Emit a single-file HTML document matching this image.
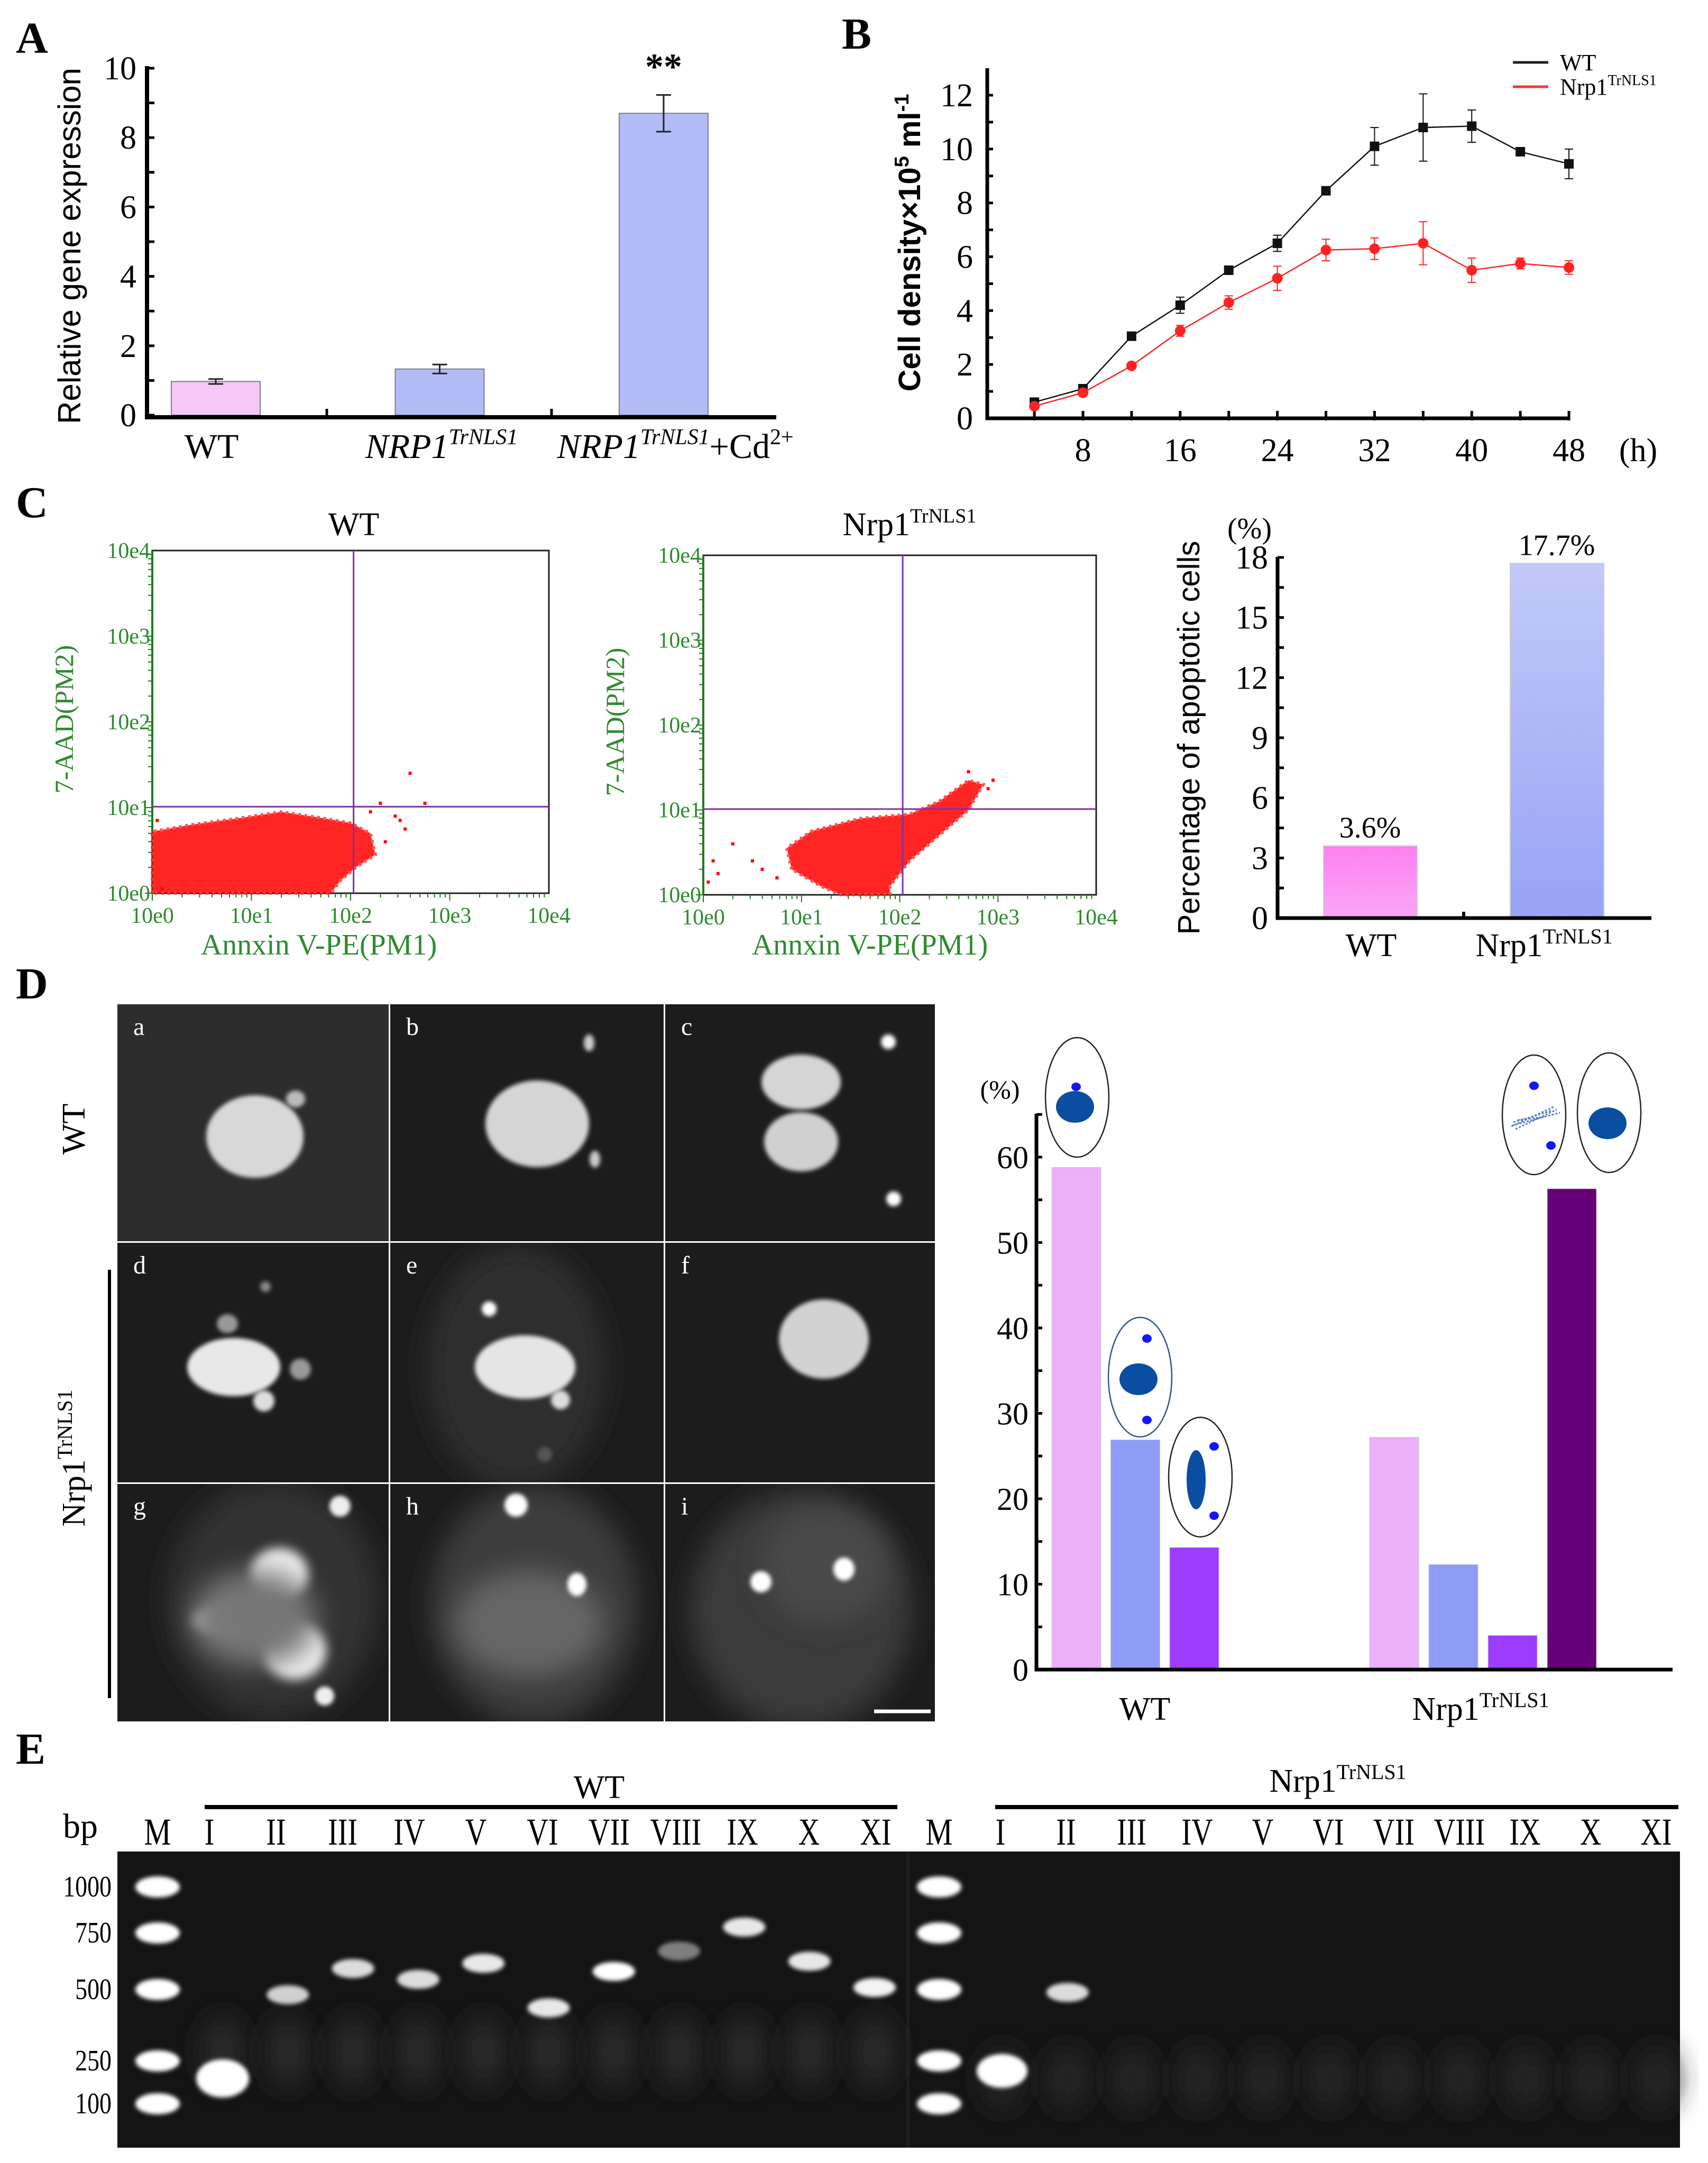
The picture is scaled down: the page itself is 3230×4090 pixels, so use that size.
<!DOCTYPE html>
<html><head><meta charset="utf-8"><title>Figure</title>
<style>
html,body{margin:0;padding:0;background:#fff}
svg{display:block}
.serif{font-family:"Liberation Serif",serif}
.sans{font-family:"Liberation Sans",sans-serif}
</style></head>
<body>
<svg id="fig" xmlns="http://www.w3.org/2000/svg" width="3230" height="4090" viewBox="0 0 3230 4090">
<defs>
<filter id="blur4" x="-50%" y="-50%" width="200%" height="200%"><feGaussianBlur stdDeviation="4"/></filter>
<filter id="blur10" x="-50%" y="-50%" width="200%" height="200%"><feGaussianBlur stdDeviation="10"/></filter>
<filter id="blur25" x="-50%" y="-50%" width="200%" height="200%"><feGaussianBlur stdDeviation="25"/></filter>
<filter id="blur40" x="-50%" y="-50%" width="200%" height="200%"><feGaussianBlur stdDeviation="40"/></filter>
<linearGradient id="gPink" x1="0" y1="0" x2="0" y2="1"><stop offset="0" stop-color="#ff80f2"/><stop offset="1" stop-color="#f9a6f5"/></linearGradient>
<linearGradient id="gBlue" x1="0" y1="0" x2="0" y2="1"><stop offset="0" stop-color="#c2c9f8"/><stop offset="1" stop-color="#97a3f5"/></linearGradient>
</defs>

<text class="serif" x="30" y="100" font-size="84" font-weight="bold">A</text>
<text class="serif" x="1592" y="92" font-size="84" font-weight="bold">B</text>
<text class="serif" x="30" y="978" font-size="84" font-weight="bold">C</text>
<text class="serif" x="30" y="1888" font-size="84" font-weight="bold">D</text>
<text class="serif" x="30" y="3335" font-size="84" font-weight="bold">E</text>

<g id="pA">
<text class="sans" transform="translate(152,465) rotate(-90)" text-anchor="middle" font-size="60">Relative gene expression</text>
<text class="serif" x="400" y="866" text-anchor="middle" font-size="66">WT</text>
<text class="serif" x="835" y="866" text-anchor="middle" font-size="66" font-style="italic">NRP1<tspan dy="-26" font-size="42">TrNLS1</tspan></text>
<text class="serif" x="1277" y="866" text-anchor="middle" font-size="66"><tspan font-style="italic">NRP1</tspan><tspan dy="-26" font-size="42" font-style="italic">TrNLS1</tspan><tspan dy="26">+Cd</tspan><tspan dy="-26" font-size="42">2+</tspan></text>
</g>

<g id="pB">
<text class="sans" transform="translate(1740,459) rotate(-90)" text-anchor="middle" font-size="58" font-weight="bold">Cell density×10<tspan dy="-22" font-size="38">5</tspan><tspan dy="22"> ml</tspan><tspan dy="-22" font-size="38">-1</tspan></text>
<text class="serif" x="3098" y="872" text-anchor="middle" font-size="62">(h)</text>
<line x1="2861" y1="118" x2="2928" y2="118" stroke="#222" stroke-width="5"/>
<text class="serif" x="2950" y="133" font-size="44">WT</text>
<line x1="2861" y1="164" x2="2928" y2="164" stroke="#f33" stroke-width="5"/>
<text class="serif" x="2950" y="179" font-size="44">Nrp1<tspan dy="-18" font-size="28">TrNLS1</tspan></text>
</g>

<g id="pC">
<text class="serif" x="669" y="1012" text-anchor="middle" font-size="62">WT</text>
<text class="serif" x="1720" y="1012" text-anchor="middle" font-size="62">Nrp1<tspan dy="-24" font-size="38">TrNLS1</tspan></text>
<text class="serif" transform="translate(138,1360) rotate(-90)" text-anchor="middle" font-size="50" fill="#2e8b2e">7-AAD(PM2)</text>
<text class="serif" transform="translate(1180,1365) rotate(-90)" text-anchor="middle" font-size="50" fill="#2e8b2e">7-AAD(PM2)</text>
<text class="serif" x="603" y="1805" text-anchor="middle" font-size="56" fill="#2e8b2e">Annxin V-PE(PM1)</text>
<text class="serif" x="1645" y="1805" text-anchor="middle" font-size="56" fill="#2e8b2e">Annxin V-PE(PM1)</text>
<text class="sans" transform="translate(2268,1395) rotate(-90)" text-anchor="middle" font-size="58">Percentage of apoptotic cells</text>
<text class="serif" x="2363" y="1018" text-anchor="middle" font-size="56">(%)</text>
<text class="serif" x="2593" y="1808" text-anchor="middle" font-size="62">WT</text>
<text class="serif" x="2920" y="1808" text-anchor="middle" font-size="62">Nrp1<tspan dy="-24" font-size="40">TrNLS1</tspan></text>
</g>

<g id="pD">
<text class="serif" transform="translate(160,2135) rotate(-90)" text-anchor="middle" font-size="62">WT</text>
<text class="serif" transform="translate(160,2757) rotate(-90)" text-anchor="middle" font-size="62">Nrp1<tspan dy="-24" font-size="40">TrNLS1</tspan></text>
<line x1="207" y1="2401" x2="207" y2="3211" stroke="#000" stroke-width="6"/>
<text class="serif" x="1891" y="2077" text-anchor="middle" font-size="50">(%)</text>
<text class="serif" x="2165" y="3252" text-anchor="middle" font-size="62">WT</text>
<text class="serif" x="2800" y="3252" text-anchor="middle" font-size="62">Nrp1<tspan dy="-24" font-size="40">TrNLS1</tspan></text>
</g>

<g id="pE">
<text class="serif" x="1133" y="3400" text-anchor="middle" font-size="62">WT</text>
<line x1="387" y1="3417" x2="1697" y2="3417" stroke="#000" stroke-width="8"/>
<text class="serif" x="2530" y="3388" text-anchor="middle" font-size="62">Nrp1<tspan dy="-24" font-size="40">TrNLS1</tspan></text>
<line x1="1882" y1="3417" x2="3174" y2="3417" stroke="#000" stroke-width="8"/>
<text class="serif" x="152" y="3475" text-anchor="middle" font-size="66">bp</text>
</g>
</svg>

<script>
// ---------- DATA ----------
const aCategories = ['WT', 'NRP1-TrNLS1', 'NRP1-TrNLS1+Cd'];
const aValues = [0.97, 1.33, 8.7];
const aErrors = [0.07, 0.13, 0.53];
const aTicks = [0, 2, 4, 6, 8, 10];
const bHours = [4, 8, 12, 16, 20, 24, 28, 32, 36, 40, 44, 48];
const bWT = [0.6, 1.1, 3.05, 4.2, 5.5, 6.5, 8.45, 10.1, 10.8, 10.85, 9.9, 9.45];
const bWTErr = [0.1, 0.1, 0.15, 0.3, 0.1, 0.3, 0.15, 0.7, 1.25, 0.6, 0.1, 0.55];
const bNrp = [0.45, 0.95, 1.95, 3.25, 4.3, 5.2, 6.25, 6.3, 6.5, 5.5, 5.75, 5.6];
const bNrpErr = [0.1, 0.1, 0.1, 0.2, 0.25, 0.45, 0.4, 0.4, 0.8, 0.45, 0.2, 0.25];
const bYTicks = [0, 2, 4, 6, 8, 10, 12];
const bXTicks = [8, 16, 24, 32, 40, 48];
const flowTickLabels = ['10e0', '10e1', '10e2', '10e3', '10e4'];
const flowGate = [2.03, 1.01];
const flowWTCloudX = [0, 0, 0.4, 0.9, 1.3, 1.7, 2.0, 2.2, 2.25, 2.05, 1.9, 1.8];
const flowWTCloudY = [0, 0.72, 0.8, 0.88, 0.95, 0.88, 0.82, 0.7, 0.45, 0.3, 0.15, 0];
const flowWTOutX = [2.6, 2.75, 2.5, 2.45, 2.3, 2.35, 2.2, 2.55, 0.05, 0.1];
const flowWTOutY = [1.4, 1.05, 0.85, 0.9, 1.05, 0.6, 0.95, 0.75, 0.85, 0.05];
const flowNrpCloudX = [0.9, 0.85, 1.1, 1.6, 2.1, 2.4, 2.7, 2.85, 2.7, 2.4, 2.1, 1.9, 1.9, 1.4, 1.2];
const flowNrpCloudY = [0.3, 0.55, 0.75, 0.9, 0.95, 1.1, 1.35, 1.3, 1.0, 0.7, 0.4, 0.1, 0, 0, 0.1];
const flowNrpOutX = [0.1, 0.3, 0.15, 0.5, 0.6, 2.7, 2.9, 2.95, 0.05, 0.75];
const flowNrpOutY = [0.4, 0.6, 0.25, 0.4, 0.3, 1.45, 1.25, 1.35, 0.15, 0.2];
const cCategories = ['WT', 'Nrp1-TrNLS1'];
const cValues = [3.6, 17.7];
const cLabels = ['3.6%', '17.7%'];
const cTicks = [0, 3, 6, 9, 12, 15, 18];
const dGroups = ['WT', 'Nrp1-TrNLS1'];
const dWTValues = [58.8, 26.9, 14.3];
const dNrpValues = [27.2, 12.3, 4.0, 56.3];
const dTicks = [0, 10, 20, 30, 40, 50, 60];
const markerSizes = [1000, 750, 500, 250, 100];
const laneNames = ['I', 'II', 'III', 'IV', 'V', 'VI', 'VII', 'VIII', 'IX', 'X', 'XI'];
const wtBands = [189, 482, 593, 545, 616, 436, 580, 670, 782, 625, 509];
const wtBandBright = [1.0, 0.8, 0.85, 0.85, 0.9, 0.9, 1.0, 0.45, 0.9, 0.9, 0.95];
const nrpBands = [215, 490, 0, 0, 0, 0, 0, 0, 0, 0, 0];
const nrpBandBright = [1.0, 0.85, 0, 0, 0, 0, 0, 0, 0, 0, 0];

// ---------- HELPERS ----------
const NS = 'http://www.w3.org/2000/svg';
const svg = document.getElementById('fig');
function mk(tag, attrs, parent) {
  const e = document.createElementNS(NS, tag);
  for (const k in attrs) e.setAttribute(k, attrs[k]);
  (parent || svg).appendChild(e);
  return e;
}
function tx(x, y, s, size, anchor, parent, extra) {
  const e = mk('text', Object.assign({x: x, y: y, 'font-size': size, 'text-anchor': anchor || 'middle', 'font-family': '"Liberation Serif", serif'}, extra || {}), parent);
  e.textContent = s;
  return e;
}
function ctx(x, y, s, size, anchor, parent, sx) {
  const e = mk('text', {x: x / sx, y: y, 'font-size': size, 'text-anchor': anchor, 'font-family': '"Liberation Serif", serif', transform: 'scale(' + sx + ',1)'}, parent);
  e.textContent = s;
  return e;
}
let el;

// ---------- PANEL A ----------
const gA = document.getElementById('pA');
const aY = v => 785 - v * (785 - 129) / 10;
const aBandX = i => 324 + i * 423.5;
const aColors = ['#f6c8f6', '#b3bcf6', '#b3bcf6'];
aValues.forEach((v, i) => {
  el = mk('rect', {x: aBandX(i), y: aY(v), width: 168, height: aY(0) - aY(v), fill: aColors[i], stroke: '#7a7a9a', 'stroke-width': 2}, gA);
  
  
  const cx = aBandX(i) + 84;
  el = mk('path', {d: `M${cx},${aY(v + aErrors[i])}V${aY(v - aErrors[i])}M${cx - 14},${aY(v + aErrors[i])}H${cx + 14}M${cx - 14},${aY(v - aErrors[i])}H${cx + 14}`, stroke: '#222', 'stroke-width': 3, fill: 'none'}, gA);
  
  
});
el = tx(aBandX(2) + 84, aY(aValues[2] + aErrors[2]) - 30, '**', 70, 'middle', gA, {'font-weight': 'bold'});


el = mk('path', {d: `M278,${aY(10) - 4}V${aY(0) + 4}H1468`, stroke: '#000', 'stroke-width': 8, fill: 'none'}, gA);


for (let v = 0; v <= 10; v++) {
  el = mk('line', {x1: 278, x2: 292, y1: aY(v), y2: aY(v), stroke: '#000', 'stroke-width': 5}, gA);
  
  
}
aTicks.forEach(v => {
  el = tx(258, aY(v) + 21, String(v), 62, 'end', gA);
  
  
});
[618, 1043].forEach(x => {
  el = mk('line', {x1: x, x2: x, y1: aY(0) - 12, y2: aY(0) + 4, stroke: '#000', 'stroke-width': 5}, gA);
  
  
});

// ---------- PANEL B ----------
const gB = document.getElementById('pB');
const bX = h => 2048 + (h - 8) * 183.8 / 8;
const bY = v => 791 - v * (791 - 180) / 12;
el = mk('path', {d: `M1867,129V${bY(0)}H2967`, stroke: '#000', 'stroke-width': 7, fill: 'none'}, gB);


for (let v = 0; v <= 12; v++) {
  el = mk('line', {x1: 1867, x2: 1878, y1: bY(v), y2: bY(v), stroke: '#000', 'stroke-width': 5}, gB);
  
  
}
bYTicks.forEach(v => {
  el = tx(1840, bY(v) + 21, String(v), 62, 'end', gB);
  
  
});
bHours.forEach(h => {
  el = mk('line', {x1: bX(h), x2: bX(h), y1: bY(0) - 14, y2: bY(0) + 4, stroke: '#000', 'stroke-width': 5}, gB);
  
  
});
bXTicks.forEach(h => {
  el = tx(bX(h), 872, String(h), 62, 'middle', gB);
  
  
});
function series(vals, errs, color, name, square) {
  el = mk('polyline', {points: vals.map((v, i) => bX(bHours[i]) + ',' + bY(v)).join(' '), fill: 'none', stroke: color, 'stroke-width': 2.5}, gB);
  
  
  vals.forEach((v, i) => {
    const x = bX(bHours[i]);
    el = mk('path', {d: `M${x},${bY(v + errs[i])}V${bY(v - errs[i])}M${x - 8},${bY(v + errs[i])}H${x + 8}M${x - 8},${bY(v - errs[i])}H${x + 8}`, stroke: color, 'stroke-width': 2, fill: 'none'}, gB);
    
    
    if (square) el = mk('rect', {x: x - 9, y: bY(v) - 9, width: 18, height: 18, fill: color}, gB);
    else el = mk('circle', {cx: x, cy: bY(v), r: 10, fill: color}, gB);
    
    
  });
}
series(bWT, bWTErr, '#111', 'wt-series', true);
series(bNrp, bNrpErr, '#f22', 'nrp1-series', false);

// ---------- PANEL C FLOW ----------
const gC = document.getElementById('pC');
function flowPlot(L, T, R, B, cx, cy, ox, oy, name) {
  const fx = v => L + v * (R - L) / 4, fy = v => B - v * (B - T) / 4;
  const g = mk('g', {}, gC);
  
  
  el = mk('rect', {x: L, y: T, width: R - L, height: B - T, fill: '#fff', stroke: '#222', 'stroke-width': 3}, g);
  
  
  el = mk('line', {x1: L, x2: L, y1: T, y2: B, stroke: '#1f7a1f', 'stroke-width': 4}, g);
  
  
  el = mk('polygon', {points: cx.map((v, i) => fx(v) + ',' + fy(cy[i])).join(' '), fill: '#f00', opacity: 0.85, stroke: '#f33', 'stroke-width': 6, 'stroke-dasharray': '5 7'}, g);
  
  
  ox.forEach((v, i) => {
    el = mk('rect', {x: fx(v) - 3, y: fy(oy[i]) - 3, width: 6, height: 6, fill: '#f00'}, g);
    
    
  });
  el = mk('line', {x1: fx(flowGate[0]), x2: fx(flowGate[0]), y1: T, y2: B, stroke: '#8030a0', 'stroke-width': 3}, g);
  
  
  el = mk('line', {x1: L, x2: R, y1: fy(flowGate[1]), y2: fy(flowGate[1]), stroke: '#8030a0', 'stroke-width': 3}, g);
  
  
  for (let d = 0; d < 4; d++) for (let k = 1; k <= 9; k++) {
    const lv = d + Math.log10(k);
    const len = k === 1 ? 14 : 8;
    el = mk('line', {x1: fx(lv), x2: fx(lv), y1: B, y2: B + len, stroke: '#1f7a1f', 'stroke-width': 2}, g);
    
    
    el = mk('line', {x1: L - len, x2: L, y1: fy(lv), y2: fy(lv), stroke: '#1f7a1f', 'stroke-width': 2}, g);
    
    
  }
  flowTickLabels.forEach((s, i) => {
    el = tx(fx(i), B + 56, s, 42, 'middle', g, {fill: '#2e8b2e'});
    
    
    el = tx(L - 4, fy(i) + 14, s, 42, 'end', g, {fill: '#2e8b2e'});
    
    
  });
}
flowPlot(288, 1041, 1038, 1689, flowWTCloudX, flowWTCloudY, flowWTOutX, flowWTOutY, 'flow-wt');
flowPlot(1330, 1050, 2073, 1692, flowNrpCloudX, flowNrpCloudY, flowNrpOutX, flowNrpOutY, 'flow-nrp1');

// ---------- PANEL C BARS ----------
const cY = v => 1736 - v * (1736 - 1054) / 18;
const cBarX = i => 2503 + i * 353;
const cFills = ['url(#gPink)', 'url(#gBlue)'];
cValues.forEach((v, i) => {
  el = mk('rect', {x: cBarX(i), y: cY(v), width: 177, height: cY(0) - cY(v), fill: cFills[i], stroke: '#ccc', 'stroke-width': 2}, gC);
  
  
  el = tx(cBarX(i) + 88, cY(v) - 16, cLabels[i], 56, 'middle', gC);
  
  
});
el = mk('path', {d: `M2416,1053V${cY(0)}H3123`, stroke: '#000', 'stroke-width': 7, fill: 'none'}, gC);


for (let v = 0; v <= 18; v += 1.5) {
  el = mk('line', {x1: 2416, x2: 2428, y1: cY(v), y2: cY(v), stroke: '#000', 'stroke-width': 5}, gC);
  
  
}
cTicks.forEach(v => {
  el = tx(2398, cY(v) + 21, String(v), 62, 'end', gC);
  
  
});
el = mk('line', {x1: 2768, x2: 2768, y1: cY(0) - 12, y2: cY(0), stroke: '#000', 'stroke-width': 6}, gC);



// ---------- PANEL D MICROGRAPHS ----------
const gD = document.getElementById('pD');
const colX = [222, 738, 1258], colW = [513, 517, 510];
const rowY = [1899, 2350, 2806], rowH = [448, 453, 449];
const panelLetters = ['a', 'b', 'c', 'd', 'e', 'f', 'g', 'h', 'i'];
const blobs = [
  [[482,2149,92,78,'#d8d8d8',4],[559,2078,18,16,'#bbb',4]],
  [[1016,2125,98,82,'#d5d5d5',4],[1114,1972,10,16,'#ccc',3],[1125,2192,10,16,'#ccc',3]],
  [[1515,2046,75,52,'#d5d5d5',4],[1515,2159,70,56,'#d0d0d0',4],[1680,1970,14,14,'#fff',3],[1690,2267,14,14,'#fff',3]],
  [[442,2585,88,55,'#e8e8e8',5],[430,2503,20,18,'#999',4],[502,2433,10,10,'#888',3],[568,2589,20,20,'#999',4],[499,2649,20,20,'#ddd',4]],
  [[976,2585,170,230,'#2e2e2e',20],[993,2585,95,60,'#e5e5e5',5],[925,2475,14,14,'#fff',3],[1060,2647,18,18,'#ddd',4],[1030,2750,14,14,'#555',4]],
  [[1558,2532,85,75,'#d2d2d2',4]],
  [[517,3025,200,225,'#333',20],[528,2977,55,50,'#eee',6],[436,3063,70,28,'#ddd',8],[557,3121,60,55,'#eee',6],[480,3060,120,90,'#777',20],[643,2848,20,20,'#eee',3],[614,3207,18,18,'#eee',3]],
  [[1010,3034,195,225,'#3c3c3c',20],[1000,3070,140,100,'#666',30],[976,2846,22,22,'#fff',3],[1091,2996,18,22,'#fff',3]],
  [[1515,3044,210,225,'#3a3a3a',20],[1560,2960,120,110,'#4a4a4a',30],[1439,2991,20,20,'#fff',3],[1596,2967,20,22,'#fff',3]]
];
panelLetters.forEach((s, k) => {
  const r = Math.floor(k / 3), c = k % 3;
  const g = mk('g', {}, gD);
  
  
  el = mk('rect', {x: colX[c], y: rowY[r], width: colW[c], height: rowH[r], fill: k === 0 ? '#2c2c2c' : '#1c1c1c'}, g);
  
  
  const cp = mk('clipPath', {id: 'cp' + k}, g);
  mk('rect', {x: colX[c], y: rowY[r], width: colW[c], height: rowH[r]}, cp);
  const inner = mk('g', {'clip-path': 'url(#cp' + k + ')'}, g);
  blobs[k].forEach(b => {
    el = mk('ellipse', {cx: b[0], cy: b[1], rx: b[2], ry: b[3], fill: b[4], filter: b[5] >= 20 ? 'url(#blur25)' : (b[5] >= 6 ? 'url(#blur10)' : 'url(#blur4)')}, inner);
    
    
  });
  el = tx(colX[c] + 30, rowY[r] + 58, s, 48, 'start', g, {fill: '#fff'});
  
  
});
el = mk('line', {x1: 1653, x2: 1760, y1: 3236, y2: 3236, stroke: '#fff', 'stroke-width': 7}, gD);



// ---------- PANEL D CHART ----------
const dY = v => 3157 - v * 161.5 / 10;
const dWTx = i => 1989 + i * 111.5;
const dNrpX = i => 2590 + i * 112;
const dColors = ['#ebb0f8', '#8e9cf8', '#9b3cff', '#660078'];
dWTValues.forEach((v, i) => {
  el = mk('rect', {x: dWTx(i), y: dY(v), width: 93, height: dY(0) - dY(v), fill: dColors[i], stroke: '#ccc', 'stroke-width': 1}, gD);
  
  
});
dNrpValues.forEach((v, i) => {
  el = mk('rect', {x: dNrpX(i), y: dY(v), width: 93, height: dY(0) - dY(v), fill: dColors[i], stroke: '#ccc', 'stroke-width': 1}, gD);
  
  
});
el = mk('path', {d: `M1960,2106V${dY(0)}H3163`, stroke: '#000', 'stroke-width': 7, fill: 'none'}, gD);


for (let v = 0; v <= 65; v += 5) {
  el = mk('line', {x1: 1960, x2: 1971, y1: dY(v), y2: dY(v), stroke: '#000', 'stroke-width': 5}, gD);
  
  
}
dTicks.forEach(v => {
  el = tx(1945, dY(v) + 21, String(v), 60, 'end', gD);
  
  
});
function cell(cx, cy, stroke, name) {
  el = mk('ellipse', {cx: cx, cy: cy, rx: 60, ry: 113, fill: '#fff', stroke: stroke, 'stroke-width': 2.5}, gD);
  
  
}
function dot(cx, cy, rx, ry, fill, name) {
  el = mk('ellipse', {cx: cx, cy: cy, rx: rx, ry: ry, fill: fill}, gD);
  
  
}
cell(2037, 2075, '#222', 'cell-icon-normal');
dot(2033, 2093, 36, 30, '#0a4ea2', 'cell-icon-macronucleus');
dot(2035, 2055, 9, 8, '#1414ff', 'cell-icon-micronucleus');
cell(2156, 2604, '#3050a0', 'cell-icon-separated');
dot(2153, 2608, 36, 30, '#0a4ea2', 'cell-icon-macronucleus');
dot(2169, 2531, 9, 8, '#1414ff', 'cell-icon-micronucleus');
dot(2169, 2685, 9, 8, '#1414ff', 'cell-icon-micronucleus');
cell(2270, 2793, '#222', 'cell-icon-elongated');
dot(2262, 2798, 18, 56, '#0a4ea2', 'cell-icon-macronucleus');
dot(2296, 2735, 9, 8, '#1414ff', 'cell-icon-micronucleus');
dot(2296, 2866, 9, 8, '#1414ff', 'cell-icon-micronucleus');
cell(2901, 2108, '#222', 'cell-icon-fragmented');
dot(2901, 2053, 9, 8, '#1414ff', 'cell-icon-micronucleus');
dot(2933, 2166, 9, 8, '#1414ff', 'cell-icon-micronucleus');
el = mk('path', {d: 'M2858,2130 L2940,2092 M2862,2122 L2935,2100 M2866,2135 L2944,2098 M2870,2118 L2920,2112 M2860,2128 L2950,2104', stroke: '#5a80c8', 'stroke-width': 3, 'stroke-dasharray': '4 3', fill: 'none'}, gD);


cell(3043, 2104, '#222', 'cell-icon-condensed');
dot(3040, 2124, 36, 30, '#0a4ea2', 'cell-icon-macronucleus');

// ---------- PANEL E GEL ----------
const gE = document.getElementById('pE');
const markerY = [3568, 3655, 3762, 3897, 3978];
function bpY(bp) {
  for (let i = 0; i < markerSizes.length - 1; i++) {
    const a = markerSizes[i], b = markerSizes[i + 1];
    if (bp <= a && bp >= b) return markerY[i] + (a - bp) / (a - b) * (markerY[i + 1] - markerY[i]);
  }
  return bp > markerSizes[0] ? markerY[0] : markerY[markerY.length - 1];
}
el = mk('rect', {x: 222, y: 3501, width: 2955, height: 560, fill: '#141414'}, gE);


el = mk('line', {x1: 1717, x2: 1717, y1: 3501, y2: 4061, stroke: '#1e1e1e', 'stroke-width': 6}, gE);


const wtLaneX = i => 421 + i * 123.3;
const nrpLaneX = i => 1895 + i * 123.8;
const wtLabelX = i => 396 + i * 126;
const nrpLabelX = i => 1892 + i * 124;
function band(x, bp, bright, w, h, name) {
  el = mk('ellipse', {cx: x, cy: bpY(bp), rx: w, ry: h, fill: '#fff', opacity: bright, filter: 'url(#blur4)'}, gE);
  
  
}
// faint smears
laneNames.forEach((s, i) => {
  el = mk('ellipse', {cx: wtLaneX(i), cy: 3880, rx: 40, ry: 70, fill: '#2a2a2a', filter: 'url(#blur25)'}, gE);
  
  
  el = mk('ellipse', {cx: nrpLaneX(i), cy: 3930, rx: 40, ry: 60, fill: '#262626', filter: 'url(#blur25)'}, gE);
  
  
});
markerSizes.forEach((bp, i) => {
  band(298, bp, 1, 42, 20, 'marker-band-wt');
  band(1776, bp, 1, 42, 20, 'marker-band-nrp1');
  el = ctx(211, bpY(bp) + 18, String(bp), 56, 'end', gE, 0.82);
  
  
});
wtBands.forEach((bp, i) => {
  const big = i === 0;
  band(wtLaneX(i), bp, wtBandBright[i], big ? 50 : 40, big ? 36 : 18, 'wt-band-' + laneNames[i]);
});
nrpBands.forEach((bp, i) => {
  if (bp > 0) band(nrpLaneX(i), bp, nrpBandBright[i], i === 0 ? 48 : 40, i === 0 ? 32 : 18, 'nrp1-band-' + laneNames[i]);
});
el = ctx(298, 3488, 'M', 72, 'middle', gE, 0.8);


el = ctx(1776, 3488, 'M', 72, 'middle', gE, 0.8);


laneNames.forEach((s, i) => {
  el = ctx(wtLabelX(i), 3488, s, 72, 'middle', gE, 0.78);
  
  
  el = ctx(nrpLabelX(i), 3488, s, 72, 'middle', gE, 0.78);
  
  
});
</script>
</body></html>
